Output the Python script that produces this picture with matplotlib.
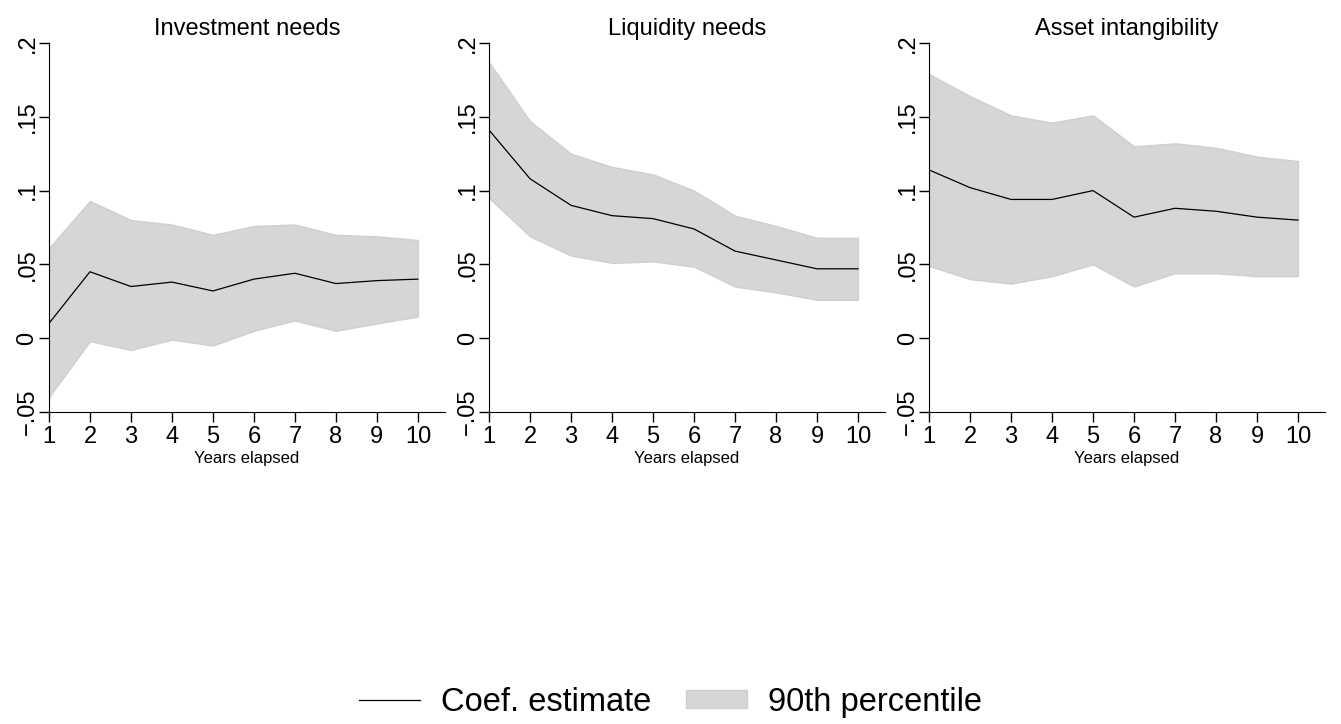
import numpy as np
import matplotlib.pyplot as plt
from matplotlib.lines import Line2D
from matplotlib.patches import Patch

plt.rcParams['font.family'] = ['Liberation Sans', 'DejaVu Sans']
plt.rcParams['axes.unicode_minus'] = True

years = [1, 2, 3, 4, 5, 6, 7, 8, 9, 10]
titles = ['Investment needs', 'Liquidity needs', 'Asset intangibility']

# coefficient estimates
inv_coef = [0.010, 0.045, 0.035, 0.038, 0.032, 0.040, 0.044, 0.037, 0.039, 0.040]
liq_coef = [0.141, 0.108, 0.090, 0.083, 0.081, 0.074, 0.059, 0.053, 0.047, 0.047]
ast_coef = [0.114, 0.102, 0.094, 0.094, 0.100, 0.082, 0.088, 0.086, 0.082, 0.080]

# upper bounds
inv_hi = [0.061, 0.093, 0.080, 0.077, 0.070, 0.076, 0.077, 0.070, 0.069, 0.0665]
liq_hi = [0.187, 0.147, 0.125, 0.116, 0.111, 0.100, 0.083, 0.076, 0.068, 0.068]
ast_hi = [0.179, 0.164, 0.151, 0.146, 0.151, 0.130, 0.132, 0.129, 0.123, 0.120]

# lower bounds
inv_lo = [-0.040, -0.002, -0.008, -0.001, -0.005, 0.005, 0.012, 0.005, 0.010, 0.0146]
liq_lo = [0.095, 0.069, 0.056, 0.051, 0.052, 0.0485, 0.035, 0.031, 0.026, 0.026]
ast_lo = [0.049, 0.040, 0.037, 0.042, 0.050, 0.035, 0.044, 0.044, 0.042, 0.042]

coefs = [inv_coef, liq_coef, ast_coef]
his = [inv_hi, liq_hi, ast_hi]
los = [inv_lo, liq_lo, ast_lo]

yticks = [-0.05, 0, 0.05, 0.1, 0.15, 0.2]
ytick_labels = ['\u2212.05', '0', '.05', '.1', '.15', '.2']

fig = plt.figure(figsize=(13.41, 7.24), dpi=100)
lefts = [0.0365, 0.3647, 0.6928]
band = '#d6d6d6'

for i in range(3):
    ax = fig.add_axes([lefts[i], 0.431, 0.2953, 0.5096])
    ax.fill_between(years, los[i], his[i], color=band, edgecolor='#cfcfcf', linewidth=1)
    ax.plot(years, coefs[i], color='black', linewidth=0.9)
    ax.set_xlim(1, 10.66)
    ax.set_ylim(-0.05, 0.2)
    ax.set_xticks(years)
    ax.set_yticks(yticks)
    ax.set_yticklabels(ytick_labels, rotation=90, va='center')
    ax.tick_params(labelsize=17, length=7, width=1, direction='out')
    ax.tick_params(axis='x', pad=3)
    ax.tick_params(axis='y', pad=0.5)
    ax.spines['top'].set_visible(False)
    ax.spines['right'].set_visible(False)
    ax.set_title(titles[i], fontsize=17, pad=6)
    ax.set_xlabel('Years elapsed', fontsize=12, labelpad=2)

handles = [Line2D([0], [0], color='black', linewidth=0.9),
           Patch(facecolor=band, edgecolor='#cfcfcf')]
fig.legend(handles, ['Coef. estimate', '90th percentile'], loc='center',
           bbox_to_anchor=(0.5, 0.03), ncol=2, frameon=False, fontsize=23.5,
           handlelength=1.87, handleheight=0.49, columnspacing=1.04, handletextpad=0.67)

plt.savefig('out.png', dpi=100)
